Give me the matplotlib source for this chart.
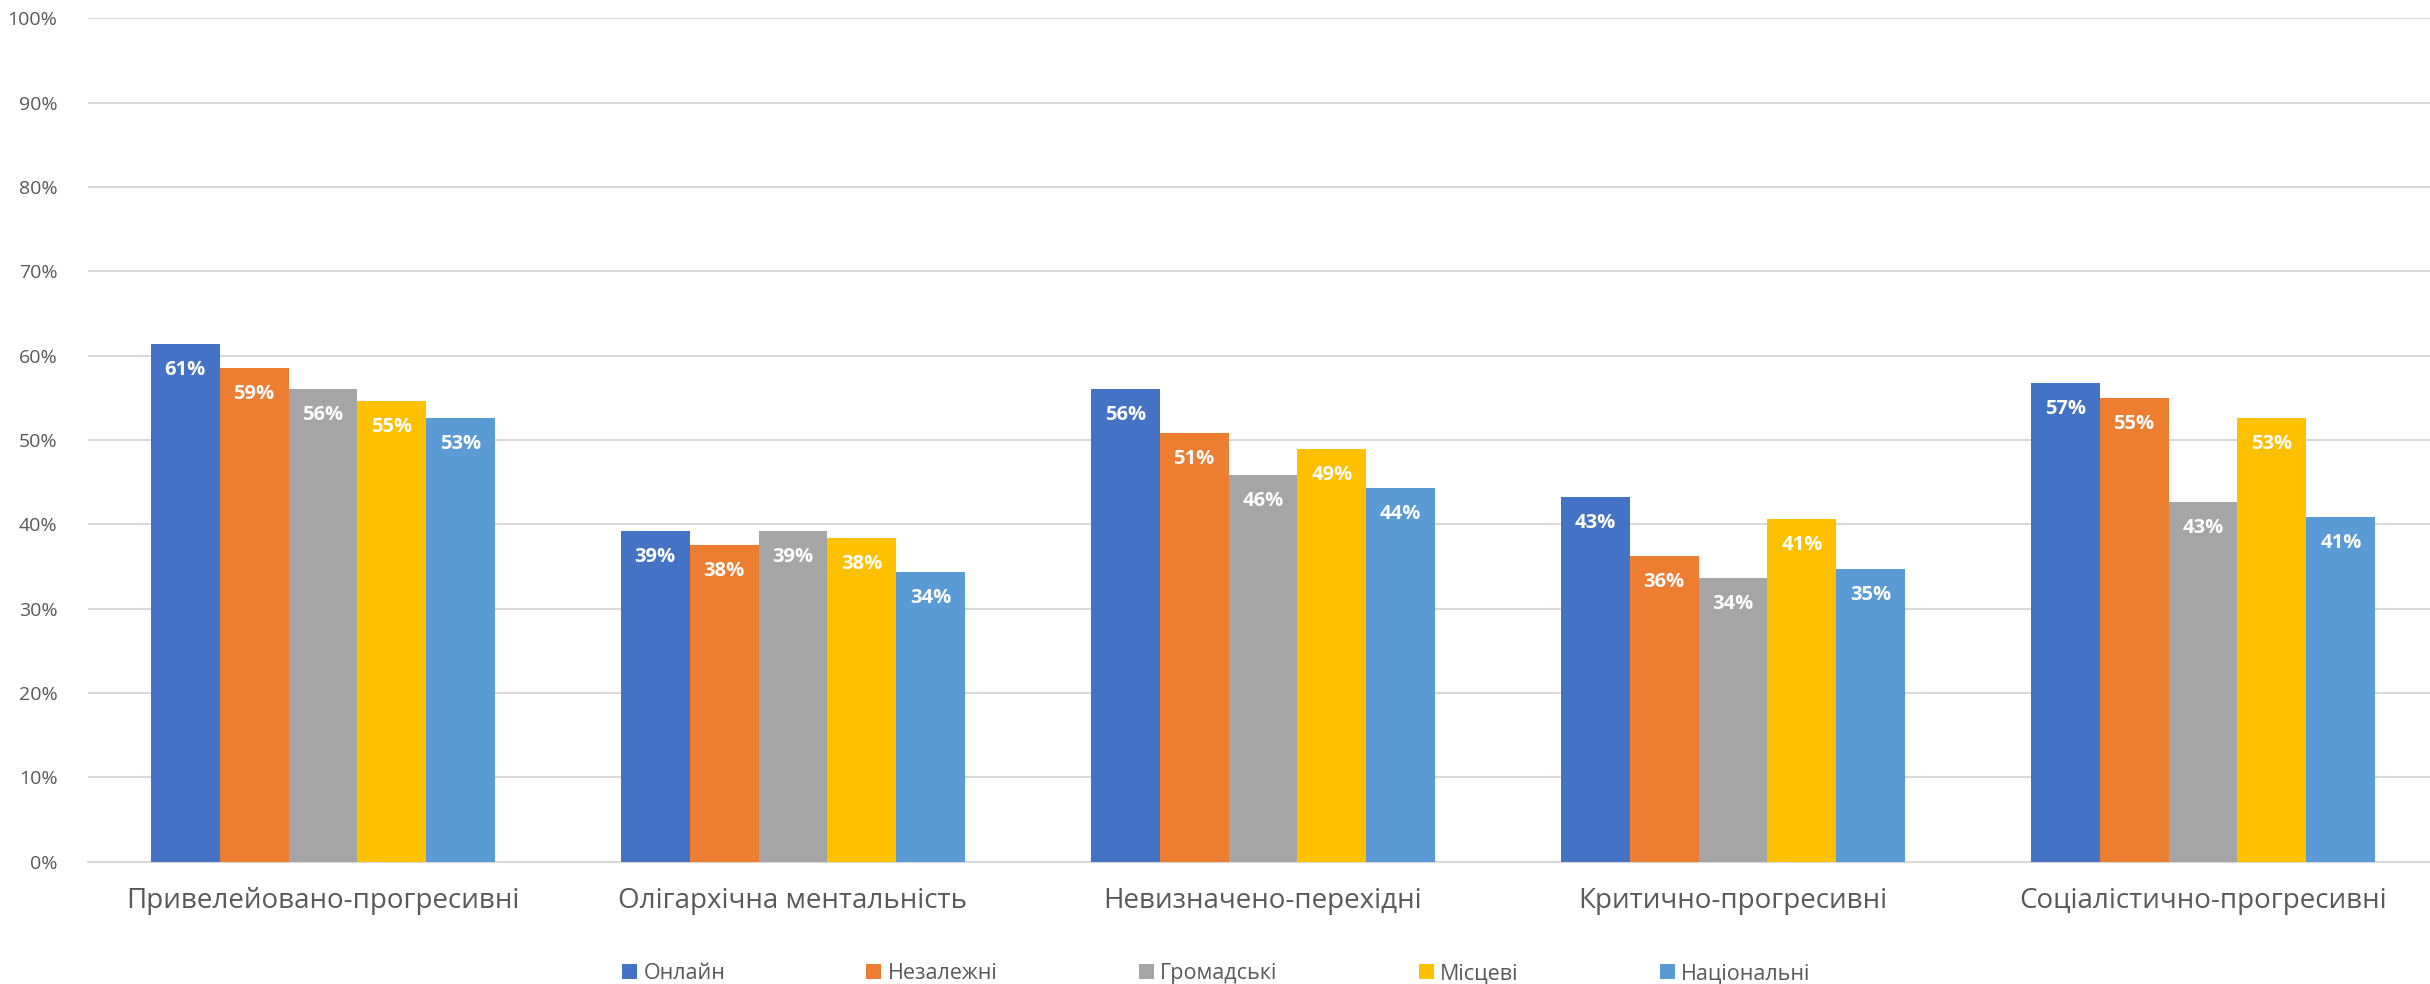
import numpy as np
import matplotlib.pyplot as plt

categories = ["Привелейовано-прогресивні", "Олігархічна ментальність", "Невизначено-перехідні",
              "Критично-прогресивні", "Соціалістично-прогресивні"]
series_names = ["Онлайн", "Незалежні", "Громадські", "Місцеві", "Національні"]
online = [61.4, 39.2, 56.1, 43.2, 56.8]
independent = [58.6, 37.6, 50.8, 36.2, 55.0]
civic = [56.1, 39.2, 45.8, 33.7, 42.7]
local = [54.6, 38.4, 48.9, 40.6, 52.6]
national = [52.6, 34.3, 44.3, 34.7, 40.9]
colors = ["#4472C4", "#ED7D31", "#A5A5A5", "#FFC000", "#5B9BD5"]

plt.rcParams['font.family'] = ['Open Sans', 'DejaVu Sans']
text_col = "#595959"

fig = plt.figure(figsize=(24.3, 9.84), dpi=100)
# plot area runs slightly past the right edge, like the source
ax = fig.add_axes([0.0362, 0.1243, 0.9671, 0.857])

x = np.arange(len(categories))
allvals = [online, independent, civic, local, national]
w = 0.1466
for i, vals in enumerate(allvals):
    pos = x + (i - 2) * w
    ax.bar(pos, vals, width=w, color=colors[i], label=series_names[i], zorder=3)
    for px, v in zip(pos, vals):
        ax.annotate("%d%%" % round(v), (px, v), xytext=(0, -26), textcoords="offset pixels",
                    ha="center", va="center", color="white", fontsize=14.5, fontweight="bold", zorder=4)

ax.set_xlim(-0.5, len(categories) - 0.5)
ax.set_ylim(0, 100)
ax.set_yticks(range(0, 101, 10))
ax.set_yticklabels(["%d%%" % t for t in range(0, 101, 10)], fontsize=14, color=text_col)
ax.set_xticks(x)
ax.set_xticklabels(categories, fontsize=20, color=text_col)
ax.tick_params(axis="both", length=0)
ax.tick_params(axis="y", pad=22)
ax.tick_params(axis="x", pad=18)
ax.grid(axis="y", color="#D9D9D9", linewidth=1.5, zorder=0)
for s in ["top", "right", "left"]:
    ax.spines[s].set_visible(False)
ax.spines["bottom"].set_color("#D9D9D9")
ax.spines["bottom"].set_linewidth(1.5)

fig.legend(loc="center", bbox_to_anchor=(0.5005, 0.0102), ncol=5, frameon=False,
           fontsize=15.5, labelcolor=text_col, handlelength=0.7, handleheight=0.7,
           handletextpad=0.3, columnspacing=6.55)

fig.savefig("out.png", dpi=100)
